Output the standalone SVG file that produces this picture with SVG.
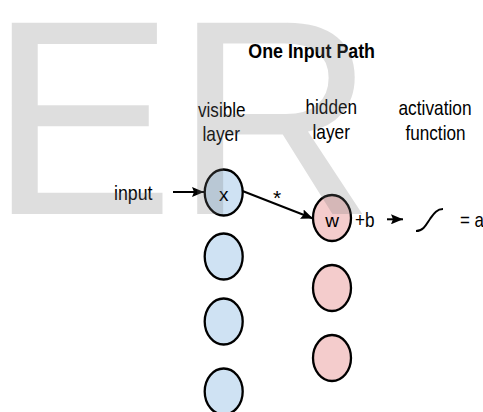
<svg xmlns="http://www.w3.org/2000/svg" width="483" height="412" viewBox="0 0 483 412">
  <defs>
    <style>
      .lbl { font-family: "Liberation Sans", Arial, sans-serif; font-size: 21px; fill: #000; }
      .title { font-family: "Liberation Sans", Arial, sans-serif; font-size: 21px; font-weight: bold; fill: #000; }
      .inner { font-family: "Liberation Sans", Arial, sans-serif; font-size: 19px; fill: #000; text-anchor: middle; }
      .vis { fill: #cfe2f3; stroke: #000; stroke-width: 2.3; }
      .hid { fill: #f4cccc; stroke: #000; stroke-width: 2.3; }
      .conn { stroke: #000; stroke-width: 2; fill: none; }
      .mark { font-family: "Liberation Sans", Arial, sans-serif; font-size: 278px; fill: #777; fill-opacity: 0.24; }
    </style>
    <marker id="head" viewBox="0 0 12 10" refX="12" refY="5" markerWidth="12" markerHeight="10" markerUnits="userSpaceOnUse" orient="auto">
      <path d="M0,0 L12,5 L0,10 L2,5 Z" fill="#000"/>
    </marker>
  </defs>

  <rect width="483" height="412" fill="#fff"/>

  <!-- headings -->
  <text class="title" x="248.3" y="58.3" textLength="126.7" lengthAdjust="spacingAndGlyphs">One Input Path</text>
  <g id="col-visible">
    <text class="lbl" x="198" y="116.5" textLength="47.5" lengthAdjust="spacingAndGlyphs">visible</text>
    <text class="lbl" x="202.5" y="141" textLength="37.5" lengthAdjust="spacingAndGlyphs">layer</text>
  </g>
  <g id="col-hidden">
    <text class="lbl" x="305.5" y="113.5" textLength="51.5" lengthAdjust="spacingAndGlyphs">hidden</text>
    <text class="lbl" x="312.5" y="138.5" textLength="37.5" lengthAdjust="spacingAndGlyphs">layer</text>
  </g>
  <g id="col-activation">
    <text class="lbl" x="398.5" y="115" textLength="73" lengthAdjust="spacingAndGlyphs">activation</text>
    <text class="lbl" x="405.5" y="140" textLength="60" lengthAdjust="spacingAndGlyphs">function</text>
  </g>

  <!-- connectors -->
  <g id="connectors">
    <line class="conn" x1="173" y1="192" x2="204" y2="192" marker-end="url(#head)"/>
    <line class="conn" x1="242.5" y1="191" x2="313" y2="218.5" marker-end="url(#head)"/>
    <line class="conn" x1="387" y1="219.3" x2="403" y2="219.3" marker-end="url(#head)"/>
  </g>

  <g id="input-label">
    <text class="lbl" x="114" y="199.5" textLength="38.5" lengthAdjust="spacingAndGlyphs">input</text>
  </g>
  <text class="lbl" x="277" y="205" font-size="18" text-anchor="middle">*</text>

  <!-- visible layer -->
  <g id="v1">
    <ellipse class="vis" cx="223.7" cy="192.5" rx="19" ry="23"/>
    <text class="inner" x="223.7" y="200.5">x</text>
  </g>
  <g id="v2"><ellipse class="vis" cx="223.7" cy="256.5" rx="19" ry="23"/></g>
  <g id="v3"><ellipse class="vis" cx="223.7" cy="321.5" rx="19" ry="23"/></g>
  <g id="v4"><ellipse class="vis" cx="223.7" cy="391.5" rx="19" ry="23"/></g>

  <!-- hidden layer -->
  <g id="h1">
    <ellipse class="hid" cx="332" cy="218" rx="19" ry="23"/>
    <text class="inner" x="332" y="226.7">w</text>
  </g>
  <g id="h2"><ellipse class="hid" cx="332" cy="288" rx="19" ry="23"/></g>
  <g id="h3"><ellipse class="hid" cx="332" cy="358" rx="19" ry="23"/></g>

  <!-- bias, activation curve, output -->
  <g id="activation">
    <text class="lbl" x="355" y="226.7" textLength="19.5" lengthAdjust="spacingAndGlyphs">+b</text>
    <path class="conn" d="M416,231 C424,231 427,223 430,219 S436,209 443,209"/>
    <text class="lbl" x="460" y="226.7" textLength="24" lengthAdjust="spacingAndGlyphs">= a</text>
  </g>

  <!-- overlay lettering -->
  <text class="mark" x="-11" y="214">ER</text>
</svg>
